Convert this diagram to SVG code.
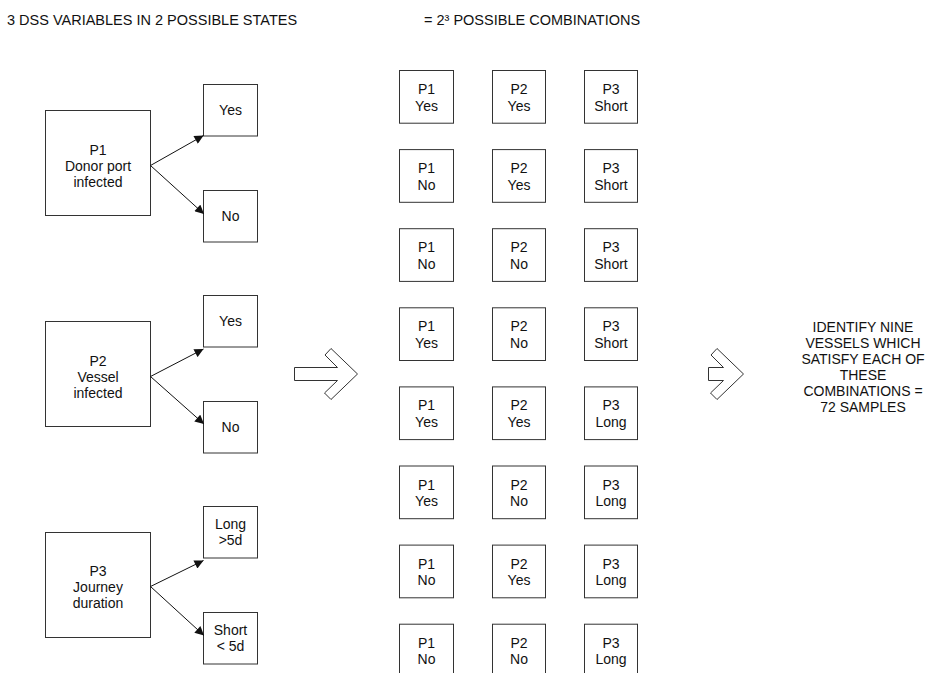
<svg xmlns="http://www.w3.org/2000/svg" width="933" height="673" viewBox="0 0 933 673">
<style>
  text { font-family: "Liberation Sans", Arial, sans-serif; font-size: 14px; fill: #111; }
  .t { font-size: 14.5px; }
  .c { text-anchor: middle; }
  .box { fill: #fff; stroke: #333; stroke-width: 1; }
  .conn { stroke: #111; stroke-width: 1; fill: none; marker-end: url(#ah); }
  .big { fill: #fff; stroke: #333; stroke-width: 1; }
</style>
<defs>
  <marker id="ah" viewBox="0 0 10 10" refX="10" refY="5" markerWidth="10" markerHeight="9" markerUnits="userSpaceOnUse" orient="auto">
    <path d="M0,0 L10,5 L0,10 Z" fill="#111"/>
  </marker>
</defs>
<rect width="933" height="673" fill="#fff"/>

<g id="titles">
  <text class="t" x="7" y="25">3 DSS VARIABLES IN 2 POSSIBLE STATES</text>
  <text class="t" x="424" y="25">= 2³ POSSIBLE COMBINATIONS</text>
</g>

<g id="p1">
  <rect class="box" x="45.5" y="110.5" width="105" height="105"/>
  <text class="c" x="98" y="155">P1</text>
  <text class="c" x="98" y="171">Donor port</text>
  <text class="c" x="98" y="187">infected</text>
</g>
<g id="p1-yes">
  <rect class="box" x="203.5" y="84.5" width="54" height="51.5"/>
  <text class="c" x="230.5" y="115">Yes</text>
</g>
<g id="p1-no">
  <rect class="box" x="203.5" y="190.5" width="54" height="51.5"/>
  <text class="c" x="230.5" y="221">No</text>
</g>

<g id="p2">
  <rect class="box" x="45.5" y="321.5" width="105" height="105"/>
  <text class="c" x="98" y="366">P2</text>
  <text class="c" x="98" y="382">Vessel</text>
  <text class="c" x="98" y="398">infected</text>
</g>
<g id="p2-yes">
  <rect class="box" x="203.5" y="295.5" width="54" height="51.5"/>
  <text class="c" x="230.5" y="326">Yes</text>
</g>
<g id="p2-no">
  <rect class="box" x="203.5" y="401.5" width="54" height="51.5"/>
  <text class="c" x="230.5" y="432">No</text>
</g>

<g id="p3">
  <rect class="box" x="45.5" y="532.5" width="105" height="105"/>
  <text class="c" x="98" y="576">P3</text>
  <text class="c" x="98" y="592">Journey</text>
  <text class="c" x="98" y="608">duration</text>
</g>
<g id="p3-long">
  <rect class="box" x="203.5" y="506.5" width="54" height="51.5"/>
  <text class="c" x="230.5" y="529">Long</text>
  <text class="c" x="230.5" y="545">&gt;5d</text>
</g>
<g id="p3-short">
  <rect class="box" x="203.5" y="612.5" width="54" height="51.5"/>
  <text class="c" x="230.5" y="635">Short</text>
  <text class="c" x="230.5" y="651">&lt; 5d</text>
</g>

<g id="connectors">
  <line class="conn" x1="150.5" y1="165.5" x2="203.5" y2="135.5"/>
  <line class="conn" x1="150.5" y1="165.5" x2="204" y2="214"/>
  <line class="conn" x1="150.5" y1="376.5" x2="203.5" y2="349"/>
  <line class="conn" x1="150.5" y1="376.5" x2="204" y2="424"/>
  <line class="conn" x1="150.5" y1="586.5" x2="203.5" y2="560.5"/>
  <line class="conn" x1="150.5" y1="586.5" x2="204" y2="635.5"/>
</g>

<g id="arrow-1">
  <path class="big" d="M294.5,367.5 L337.5,367.5 L325,355 L331,348.5 L357.5,374 L331,399.5 L324.5,393 L337.5,380.5 L294.5,380.5 Z"/>
</g>
<g id="arrow-2">
  <path class="big" d="M708.5,367.5 L723.5,367.5 L711,355 L717,348.5 L743.5,374 L717,399.5 L710.5,393 L723.5,380.5 L708.5,380.5 Z"/>
</g>

<g id="grid">
  <g id="r1">
    <rect class="box" x="399.5" y="70.5" width="54" height="52.7"/><text class="c" x="426.5" y="94">P1</text><text class="c" x="426.5" y="110.5">Yes</text>
    <rect class="box" x="492.5" y="70.5" width="53" height="52.7"/><text class="c" x="519" y="94">P2</text><text class="c" x="519" y="110.5">Yes</text>
    <rect class="box" x="584.5" y="70.5" width="53" height="52.7"/><text class="c" x="611" y="94">P3</text><text class="c" x="611" y="110.5">Short</text>
  </g>
  <g id="r2" transform="translate(0,79.1)">
    <rect class="box" x="399.5" y="70.5" width="54" height="52.7"/><text class="c" x="426.5" y="94">P1</text><text class="c" x="426.5" y="110.5">No</text>
    <rect class="box" x="492.5" y="70.5" width="53" height="52.7"/><text class="c" x="519" y="94">P2</text><text class="c" x="519" y="110.5">Yes</text>
    <rect class="box" x="584.5" y="70.5" width="53" height="52.7"/><text class="c" x="611" y="94">P3</text><text class="c" x="611" y="110.5">Short</text>
  </g>
  <g id="r3" transform="translate(0,158.2)">
    <rect class="box" x="399.5" y="70.5" width="54" height="52.7"/><text class="c" x="426.5" y="94">P1</text><text class="c" x="426.5" y="110.5">No</text>
    <rect class="box" x="492.5" y="70.5" width="53" height="52.7"/><text class="c" x="519" y="94">P2</text><text class="c" x="519" y="110.5">No</text>
    <rect class="box" x="584.5" y="70.5" width="53" height="52.7"/><text class="c" x="611" y="94">P3</text><text class="c" x="611" y="110.5">Short</text>
  </g>
  <g id="r4" transform="translate(0,237.3)">
    <rect class="box" x="399.5" y="70.5" width="54" height="52.7"/><text class="c" x="426.5" y="94">P1</text><text class="c" x="426.5" y="110.5">Yes</text>
    <rect class="box" x="492.5" y="70.5" width="53" height="52.7"/><text class="c" x="519" y="94">P2</text><text class="c" x="519" y="110.5">No</text>
    <rect class="box" x="584.5" y="70.5" width="53" height="52.7"/><text class="c" x="611" y="94">P3</text><text class="c" x="611" y="110.5">Short</text>
  </g>
  <g id="r5" transform="translate(0,316.4)">
    <rect class="box" x="399.5" y="70.5" width="54" height="52.7"/><text class="c" x="426.5" y="94">P1</text><text class="c" x="426.5" y="110.5">Yes</text>
    <rect class="box" x="492.5" y="70.5" width="53" height="52.7"/><text class="c" x="519" y="94">P2</text><text class="c" x="519" y="110.5">Yes</text>
    <rect class="box" x="584.5" y="70.5" width="53" height="52.7"/><text class="c" x="611" y="94">P3</text><text class="c" x="611" y="110.5">Long</text>
  </g>
  <g id="r6" transform="translate(0,395.5)">
    <rect class="box" x="399.5" y="70.5" width="54" height="52.7"/><text class="c" x="426.5" y="94">P1</text><text class="c" x="426.5" y="110.5">Yes</text>
    <rect class="box" x="492.5" y="70.5" width="53" height="52.7"/><text class="c" x="519" y="94">P2</text><text class="c" x="519" y="110.5">No</text>
    <rect class="box" x="584.5" y="70.5" width="53" height="52.7"/><text class="c" x="611" y="94">P3</text><text class="c" x="611" y="110.5">Long</text>
  </g>
  <g id="r7" transform="translate(0,474.6)">
    <rect class="box" x="399.5" y="70.5" width="54" height="52.7"/><text class="c" x="426.5" y="94">P1</text><text class="c" x="426.5" y="110.5">No</text>
    <rect class="box" x="492.5" y="70.5" width="53" height="52.7"/><text class="c" x="519" y="94">P2</text><text class="c" x="519" y="110.5">Yes</text>
    <rect class="box" x="584.5" y="70.5" width="53" height="52.7"/><text class="c" x="611" y="94">P3</text><text class="c" x="611" y="110.5">Long</text>
  </g>
  <g id="r8" transform="translate(0,553.7)">
    <rect class="box" x="399.5" y="70.5" width="54" height="52.7"/><text class="c" x="426.5" y="94">P1</text><text class="c" x="426.5" y="110.5">No</text>
    <rect class="box" x="492.5" y="70.5" width="53" height="52.7"/><text class="c" x="519" y="94">P2</text><text class="c" x="519" y="110.5">No</text>
    <rect class="box" x="584.5" y="70.5" width="53" height="52.7"/><text class="c" x="611" y="94">P3</text><text class="c" x="611" y="110.5">Long</text>
  </g>
</g>

<g id="result">
  <text class="c" x="863" y="332">IDENTIFY NINE</text>
  <text class="c" x="863" y="348">VESSELS WHICH</text>
  <text class="c" x="863" y="364">SATISFY EACH OF</text>
  <text class="c" x="863" y="380">THESE</text>
  <text class="c" x="863" y="396">COMBINATIONS =</text>
  <text class="c" x="863" y="412">72 SAMPLES</text>
</g>
</svg>
